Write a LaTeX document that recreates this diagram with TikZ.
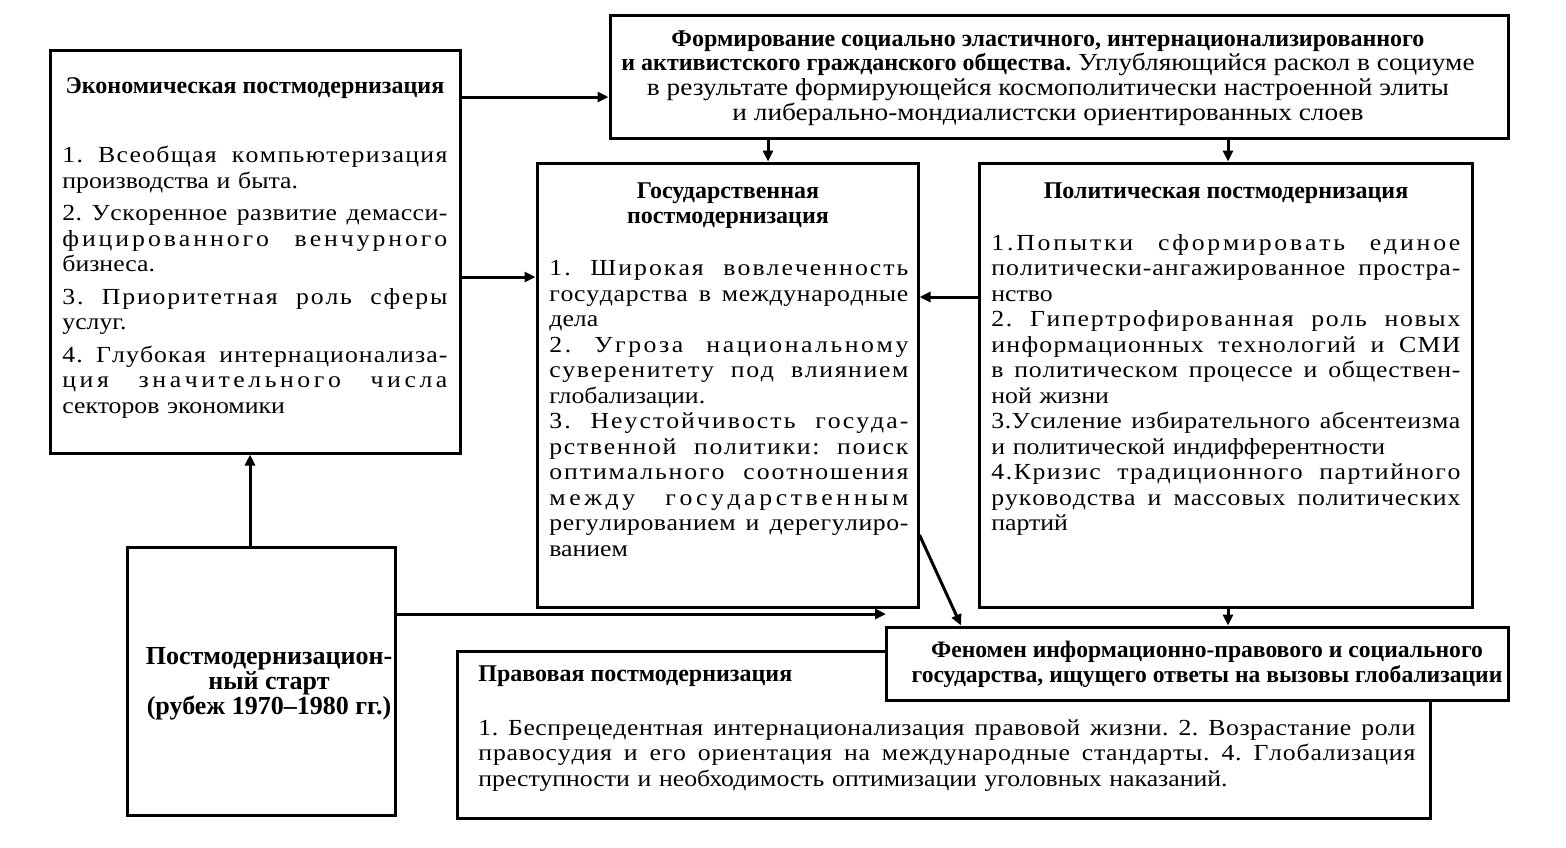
\documentclass[tikz,border=0pt]{standalone}
\usepackage{fontspec}
\setmainfont{Liberation Serif}
\newfontfamily\bodyf{Liberation Serif}[FakeStretch=1.12]
\usetikzlibrary{arrows.meta,fit,calc}
\setlength\parindent{0pt}
\frenchspacing
\newlength\bw
\def\Jstop{}
\def\Jend{}
\def\Jl#1{\ifx#1\Jstop\else#1\hskip0pt plus 0.18fil\relax\expandafter\Jl\fi}
\def\Jsplit#1 #2\Jend{\Jl#1\Jstop\ifx\relax#2\relax\else\hskip 0.28em plus 1fil minus 0.05em\relax\Jsplit#2\Jend\fi}
\newcommand\J[1]{\leavevmode\hbox to\bw{\Jsplit#1 \Jend\unskip}}
\newcommand\hb[1]{{\rmfamily\bfseries\fontsize{12}{12.4}\selectfont #1}}
\begin{document}
\begin{tikzpicture}[x=0.5pt,y=-0.5pt,
  box/.style={draw, line width=1.5pt, inner sep=0pt, fill=white},
  arr/.style={line width=1.5pt, -{Triangle[length=5.5pt,width=5pt]}},
  txt/.style={inner sep=0pt, anchor=north west, align=left, text width=\bw,
    font=\bodyf\fontsize{11.5}{12.75}\selectfont\frenchspacing},
  hd/.style={inner sep=0pt, align=center,
    font=\rmfamily\bfseries\fontsize{12}{12.4}\selectfont}]
\useasboundingbox[fill=white] (0,0) rectangle (1566,847);

% boxes
\node[box, fit={(50,50)(460,453)}] (econ) {};
\node[box, fit={(610,15)(1508,138)}] (top) {};
\node[box, fit={(537,163)(918,607)}] (gov) {};
\node[box, fit={(979,163)(1472,607)}] (pol) {};
\node[box, fit={(127,547)(395,815)}] (start) {};
\node[box, fit={(457,651)(1430,818)}] (prav) {};
\node[box, fit={(886,627)(1508,700)}] (fen) {};

% texts
\node[hd] (econh) at (255,88) {Экономическая постмодернизация};
\global\bw=192.5pt
\node[txt] (econt) at (62,146) {%
\J{1. Всеобщая компьютеризация}\\
производства и быта.\\[3.5pt]
\J{2. Ускоренное развитие демасси-}\\
\J{фицированного венчурного}\\
бизнеса.\\[3.5pt]
\J{3. Приоритетная роль сферы}\\
услуг.\\[3.5pt]
\J{4. Глубокая интернационализа-}\\
\J{ция значительного числа}\\
секторов экономики};

\node[inner sep=0pt, align=center, font=\bodyf\fontsize{12.2}{12.4}\selectfont\frenchspacing] (topt) at (1048,78) {%
\hb{Формирование социально эластичного, интернационализированного}\\
\hb{и активистского гражданского общества.} Углубляющийся раскол в социуме\\
в результате формирующейся космополитически настроенной элиты\\
и либерально-мондиалистски ориентированных слоев};

\node[hd] (govh) at (728,205.5) {Государственная\\постмодернизация};
\global\bw=179.5pt
\node[txt] (govt) at (549,260) {%
\J{1. Широкая вовлеченность}\\
\J{государства в международные}\\
дела\\
\J{2. Угроза национальному}\\
\J{суверенитету под влиянием}\\
глобализации.\\
\J{3. Неустойчивость госуда-}\\
\J{рственной политики: поиск}\\
\J{оптимального соотношения}\\
\J{между государственным}\\
\J{регулированием и дерегулиро-}\\
ванием};

\node[hd] (polh) at (1226,193) {Политическая постмодернизация};
\global\bw=234.5pt
\node[txt] (polt) at (991,234) {%
\J{1.Попытки сформировать единое}\\
\J{политически-ангажированное простра-}\\
нство\\
\J{2. Гипертрофированная роль новых}\\
\J{информационных технологий и СМИ}\\
\J{в политическом процессе и обществен-}\\
ной жизни\\
\J{3.Усиление избирательного абсентеизма}\\
и политической индифферентности\\
\J{4.Кризис традиционного партийного}\\
\J{руководства и массовых политических}\\
партий};

\node[hd, anchor=west] (pravh) at (478,676) {Правовая постмодернизация};
\global\bw=468.5pt
\node[txt] (pravt) at (478,719) {%
\J{1. Беспрецедентная интернационализация правовой жизни. 2. Возрастание роли}\\
\J{правосудия и его ориентация на международные стандарты. 4. Глобализация}\\
преступности и необходимость оптимизации уголовных наказаний.};

\node[hd, font=\rmfamily\bfseries\fontsize{11.8}{12.4}\selectfont] (fent) at (1207,664.5) {Феномен информационно-правового и социального\\государства, ищущего ответы на вызовы глобализации};

\node[hd, font=\rmfamily\bfseries\fontsize{13}{12.6}\selectfont] (startt) at (269,684) {Постмодернизацион-\\ный старт\\(рубеж 1970--1980 гг.)};

% arrows
\coordinate (tipA) at (886,614);
\draw[arr] (econ.east |- 0,97) -- (top.west |- 0,97);
\draw[arr] (top.south -| 768,0) -- (gov.north -| 768,0);
\draw[arr] (top.south -| 1228,0) -- (pol.north -| 1228,0);
\draw[arr] (econ.east |- 0,277) -- (gov.west |- 0,277);
\draw[arr] (pol.west |- 0,297) -- (gov.east |- 0,297);
\draw[arr] (start.north -| 250,0) -- (econ.south -| 250,0);
\draw[arr] (start.east |- tipA) -- (tipA);
\draw[arr] (gov.east |- 0,535) -- (fen.north -| 961,0);
\draw[arr] (pol.south -| 1228,0) -- (fen.north -| 1228,0);
\end{tikzpicture}
\end{document}
